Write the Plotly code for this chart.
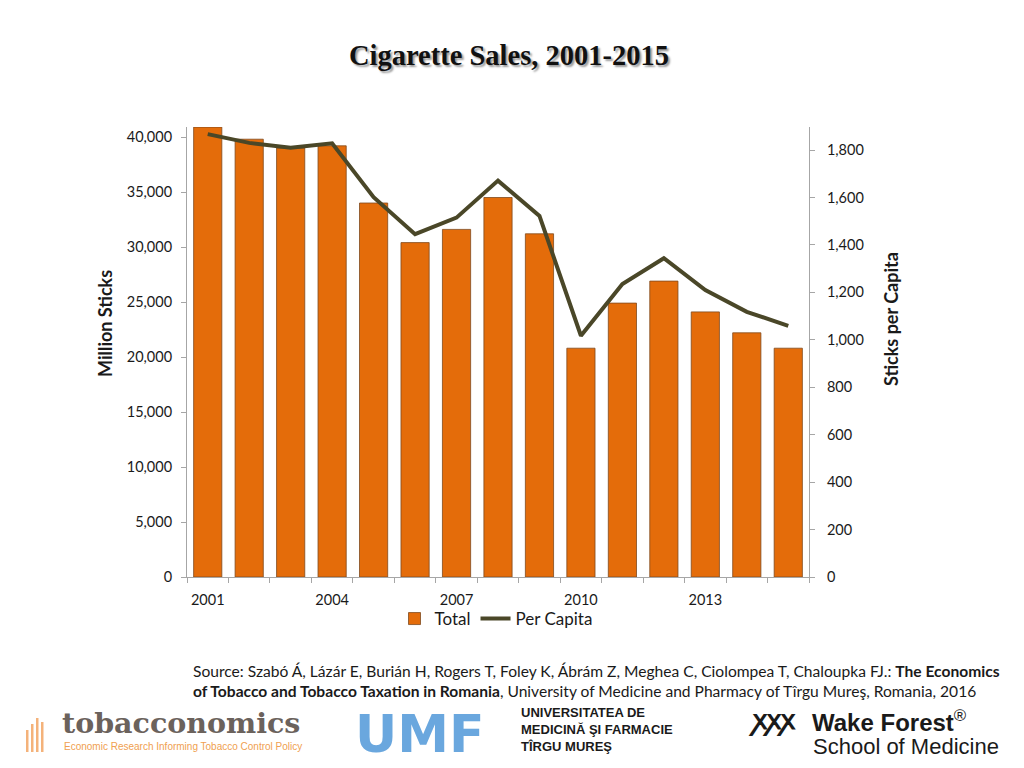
import plotly.graph_objects as go

years = list(range(2001, 2016))
total_million_sticks = [40900, 39800, 39000, 39200, 34000, 30400, 31600, 34500, 31200,
                        20800, 24900, 26900, 24100, 22200, 20800]
per_capita = [1867, 1830, 1810, 1828, 1601, 1445, 1515, 1671, 1522,
              1017, 1235, 1344, 1210, 1118, 1059]
x_tick_labels = ["2001", "2004", "2007", "2010", "2013"]
left_ticks = [0, 5000, 10000, 15000, 20000, 25000, 30000, 35000, 40000]
right_ticks = [0, 200, 400, 600, 800, 1000, 1200, 1400, 1600, 1800]

FONT = "Lato"
BAR = "#E46C0A"
LINE = "#4A4728"
AX = "#A6A6A6"

# page has an 8px body margin; figure is sized to fit the 1024x768 window
W, H = 1016, 760
PL, PR, PT, PB = 187, 809, 127, 577  # plot area in page pixels


def px(x):
    return (x - PL) / (PR - PL)


def py(y):
    return (PB - y) / (PB - PT)


fig = go.Figure()
fig.add_trace(go.Bar(
    x=years, y=total_million_sticks, name="Total",
    marker=dict(color=BAR, line=dict(color="#7F4A1E", width=0.8)),
    yaxis="y",
))
fig.add_trace(go.Scatter(
    x=years, y=per_capita, name="Per Capita", mode="lines",
    line=dict(color=LINE, width=4), yaxis="y2",
))

boundaries = [y - 0.5 for y in years] + [years[-1] + 0.5]

fig.update_layout(
    width=W, height=H,
    paper_bgcolor="white", plot_bgcolor="white",
    margin=dict(l=PL - 8, r=W - (PR - 8), t=PT - 8, b=H - (PB - 8)),
    bargap=0.32,
    font=dict(family=FONT, size=14.5, color="#1a1a1a"),
    title=dict(
        text="<b>Cigarette Sales, 2001-2015</b>",
        x=(509 - 8) / W, xanchor="center", y=1 - (55 - 8) / H, yanchor="middle",
        font=dict(family="Liberation Serif", size=28.5, color="#111111",
                  shadow="2px 2px 2px #9a9a9a"),
    ),
    xaxis=dict(
        range=[years[0] - 0.5, years[-1] + 0.5],
        tickmode="array", tickvals=[int(t) for t in x_tick_labels], ticktext=x_tick_labels,
        ticks="", showgrid=False, zeroline=False,
        showline=True, linecolor=AX, linewidth=1,
        tickfont=dict(size=14.5), ticklabelstandoff=10,
        minor=dict(tickmode="array", tickvals=boundaries, ticks="outside",
                   ticklen=5, tickcolor=AX, showgrid=False),
    ),
    yaxis=dict(
        range=[0, 40909], tickmode="array", tickvals=left_ticks,
        tickformat=",d", ticks="outside", ticklen=5, tickcolor=AX,
        showline=True, linecolor=AX, linewidth=1, showgrid=False, zeroline=False,
        tickfont=dict(size=14.5), ticklabelstandoff=6,
    ),
    yaxis2=dict(
        range=[0, 1897], overlaying="y", side="right",
        tickmode="array", tickvals=right_ticks, tickformat=",d",
        ticks="outside", ticklen=5, tickcolor=AX,
        showline=True, linecolor=AX, linewidth=1, showgrid=False, zeroline=False,
        tickfont=dict(size=14.5), ticklabelstandoff=9,
    ),
    legend=dict(
        orientation="h", x=px(496), xanchor="center", y=py(619), yanchor="middle",
        font=dict(size=17), itemwidth=30, tracegroupgap=0,
        bgcolor="rgba(0,0,0,0)",
    ),
    showlegend=True,
)


def ann(text, x, y, size, family=FONT, color="#1a1a1a", xanchor="left", angle=0, align="left"):
    return dict(text=text, x=px(x), y=py(y), xref="paper", yref="paper",
                xanchor=xanchor, yanchor="middle", align=align, showarrow=False,
                textangle=angle, font=dict(family=family, size=size, color=color))


annotations = [
    ann("<b>Million Sticks</b>", 105, 324, 18, xanchor="center", angle=-90),
    ann("<b>Sticks per Capita</b>", 891, 319, 18, xanchor="center", angle=-90),
    ann("Source: Szabó Á, Lázár E, Burián H, Rogers T, Foley K, Ábrám Z, Meghea C, Ciolompea T, Chaloupka FJ.: <b>The Economics</b><br>"
        "<b>of Tobacco and Tobacco Taxation in Romania</b>, University of Medicine and Pharmacy of Tîrgu Mureş, Romania, 2016",
        191, 681, 15.6),
    ann("<b>tobacconomics</b>", 60, 723, 28.5, family="DejaVu Serif", color="#6B625C"),
    ann("Economic Research Informing Tobacco Control Policy", 62, 746, 10,
        family="Liberation Sans", color="#F0A050"),
    ann("<b>UMF</b>", 353, 734, 52, family="DejaVu Sans", color="#6AA7DE"),
    ann("<b>UNIVERSITATEA DE<br>MEDICINĂ ŞI FARMACIE<br>TÎRGU MUREŞ</b>", 519, 729, 13,
        family="Liberation Sans"),
    ann("<b>Wake Forest</b><sup>®</sup>", 810, 721, 24, family="Liberation Sans"),
    ann("School of Medicine", 811, 746, 22, family="Liberation Sans"),
    ann("<b>ꭗꭗꭗ</b>", 746, 720, 27, family="DejaVu Sans"),
]
fig.update_layout(annotations=annotations)

# decorative logo bars (tobacconomics icon)
shapes = []
for i, h in enumerate([22, 28, 34, 30]):
    x0 = 26 + i * 5
    shapes.append(dict(type="rect", xref="paper", yref="paper",
                       x0=px(x0), x1=px(x0 + 2.5), y0=py(752), y1=py(752 - h),
                       fillcolor="#F4B27A", line=dict(width=0)))
fig.update_layout(shapes=shapes)

fig.write_html("out.html")
